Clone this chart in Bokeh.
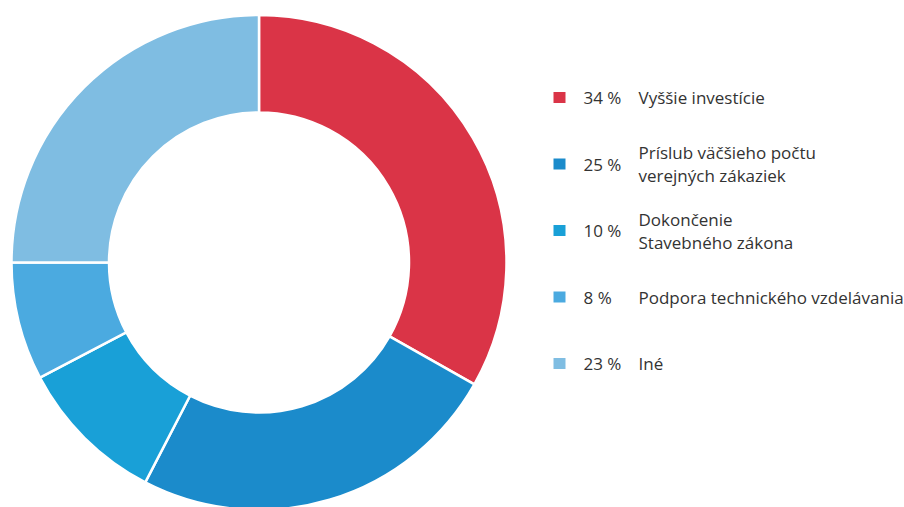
import math
from bokeh.plotting import figure
from bokeh.models import Range1d, ColumnDataSource
from bokeh.core.properties import value
from bokeh.embed import file_html
from bokeh.resources import INLINE

categories = ["Vyššie investície", "Príslub väčšieho počtu\nverejných zákaziek",
              "Dokončenie\nStavebného zákona", "Podpora technického vzdelávania", "Iné"]
percent_labels = ["34 %", "25 %", "10 %", "8 %", "23 %"]
slice_values = [33.2, 24.4, 9.7, 7.7, 25.0]
colors = ["#DA3447", "#1B8BCB", "#19A0D7", "#4BAAE0", "#7FBDE2"]

W, H = 904, 507
p = figure(width=W, height=H, output_backend="svg", toolbar_location=None,
           x_range=Range1d(0, W), y_range=Range1d(0, H), min_border=0)
p.axis.visible = False
p.grid.visible = False
p.outline_line_color = None
p.background_fill_color = "white"

def px(X):
    return X

def py(Y):
    return H - Y

cx, cy = px(258.5), py(262)
total = sum(slice_values)
starts, ends = [], []
acc = 0.0
for v in slice_values:
    a0 = math.pi / 2 - 2 * math.pi * acc / total
    acc += v
    a1 = math.pi / 2 - 2 * math.pi * acc / total
    starts.append(a0)
    ends.append(a1)

src = ColumnDataSource(dict(start=starts, end=ends, color=colors))
p.annular_wedge(x=cx, y=cy, inner_radius=150, outer_radius=247.5,
                start_angle="start", end_angle="end", direction="clock",
                fill_color="color", line_color="white", line_width=2.5, source=src)

font = value("Open Sans")
row_y = [97, 163.5, 230, 296.5, 363]
sq_x, sq_y, pct_x, pct_y, pct_t = [], [], [], [], []
lab_x, lab_y, lab_t = [], [], []
for i, cat in enumerate(categories):
    Y = row_y[i]
    sq_x.append(px(559)); sq_y.append(py(Y))
    pct_x.append(px(583)); pct_y.append(py(Y)); pct_t.append(percent_labels[i])
    lines = cat.split("\n")
    n = len(lines)
    for j, ln in enumerate(lines):
        off = (j - (n - 1) / 2) * 23
        lab_x.append(px(638)); lab_y.append(py(Y + off)); lab_t.append(ln)

p.rect(x=sq_x, y=sq_y, width=12, height=11, width_units="screen", height_units="screen",
       fill_color=colors, line_color=None)
p.text(x=pct_x, y=pct_y, text=pct_t, text_font=font, text_font_size="17px",
       text_color="#333333", text_baseline="middle", text_align="left")
p.text(x=lab_x, y=lab_y, text=lab_t, text_font=font, text_font_size="17px",
       text_color="#333333", text_baseline="middle", text_align="left")

open("out.html", "w").write(file_html(p, INLINE))
